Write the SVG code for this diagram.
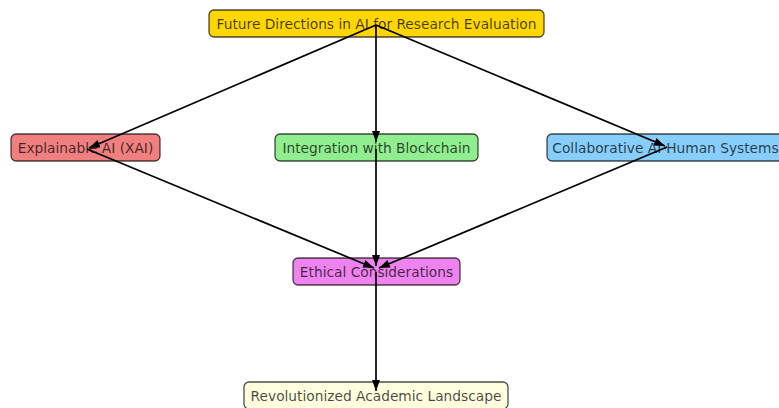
<svg xmlns="http://www.w3.org/2000/svg" width="779" height="408" viewBox="0 0 779 408">
<style>
.box{stroke:#000;stroke-opacity:0.7;stroke-width:1.3}
.lbl{font-family:"DejaVu Sans",sans-serif;font-size:13.75px;fill:#000;fill-opacity:0.72;text-anchor:middle;dominant-baseline:central}
.edge{stroke:#000;stroke-width:1.7;fill:none;marker-end:url(#ah)}
</style>
<defs>
<marker id="ah" markerUnits="userSpaceOnUse" markerWidth="12" markerHeight="9" refX="11" refY="4" orient="auto">
<path d="M0,0 L11,4 L0,8 z" fill="#000"/>
</marker>
</defs>
<rect width="779" height="408" fill="#fff"/>
<g id="n-top"><rect class="box" x="209" y="10" width="335" height="27" rx="5" fill="#FFD700"/><text class="lbl" x="376.5" y="23.5">Future Directions in AI for Research Evaluation</text></g>
<g id="n-xai"><rect class="box" x="11" y="134" width="149" height="27" rx="5" fill="#F08080"/><text class="lbl" x="85.5" y="147.5">Explainable AI (XAI)</text></g>
<g id="n-blockchain"><rect class="box" x="275" y="134" width="203" height="27" rx="5" fill="#90EE90"/><text class="lbl" x="376.5" y="147.5">Integration with Blockchain</text></g>
<g id="n-collab"><rect class="box" x="547" y="134" width="242" height="27" rx="5" fill="#87CEFA"/><text class="lbl" x="665.5" y="147.5">Collaborative AI-Human Systems</text></g>
<g id="n-ethical"><rect class="box" x="293" y="258" width="167" height="27" rx="5" fill="#EE82EE"/><text class="lbl" x="376.5" y="271.5">Ethical Considerations</text></g>
<g id="n-rev"><rect class="box" x="244" y="382" width="264" height="27" rx="5" fill="#FFFFE0"/><text class="lbl" x="376" y="395.5">Revolutionized Academic Landscape</text></g>
<g id="connectors">
<line class="edge" x1="376" y1="25" x2="89" y2="148"/>
<line class="edge" x1="376" y1="25" x2="376" y2="142"/>
<line class="edge" x1="376" y1="25" x2="665" y2="146"/>
<line class="edge" x1="87" y1="149" x2="374" y2="268"/>
<line class="edge" x1="376" y1="149" x2="376" y2="266"/>
<line class="edge" x1="667" y1="147" x2="379" y2="268"/>
<line class="edge" x1="376" y1="272" x2="376" y2="391"/>
</g>
</svg>
